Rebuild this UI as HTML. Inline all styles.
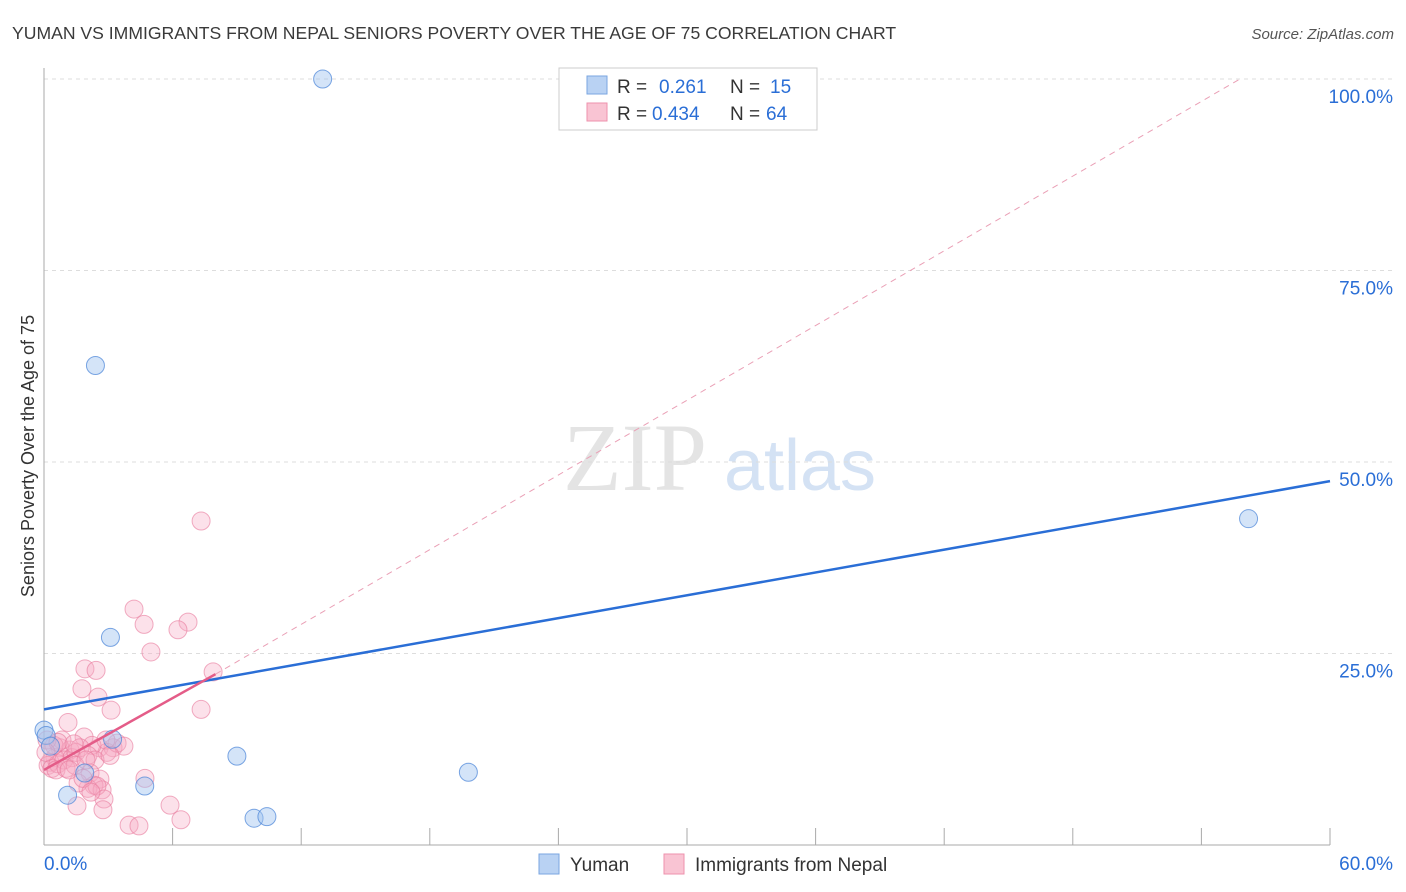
<!DOCTYPE html>
<html><head><meta charset="utf-8"><style>
body{margin:0;background:#fff;font-family:"Liberation Sans",sans-serif}
svg{display:block}
</style></head><body>
<svg id="c" width="1406" height="892" xmlns="http://www.w3.org/2000/svg">
<text x="12" y="39" font-size="17.6" fill="#3a3a3a">YUMAN VS IMMIGRANTS FROM NEPAL SENIORS POVERTY OVER THE AGE OF 75 CORRELATION CHART</text>
<text x="1394" y="39" font-size="15" fill="#555" font-style="italic" text-anchor="end">Source: ZipAtlas.com</text>
<text x="0" y="0" transform="translate(34,456) rotate(-90)" font-size="18" fill="#333" text-anchor="middle">Seniors Poverty Over the Age of 75</text>
<g>
<text x="635" y="490" font-size="96" fill="#e4e4e4" font-family="Liberation Serif,serif" text-anchor="middle">ZIP</text>
<text x="800" y="490" font-size="72" fill="#d4e2f4" text-anchor="middle">atlas</text>
</g>
<g id="grid"></g><g id="axes"></g><g id="lines"></g><g id="pts"></g>
<g>
<rect x="559" y="68" width="258" height="62" fill="#fff" stroke="#ccc"/>
<rect x="587" y="76" width="20" height="18" fill="#b9d2f3" stroke="#7aa6e0"/>
<rect x="587" y="103" width="20" height="18" fill="#f9c4d3" stroke="#ee92ad"/>
<text x="617" y="93" font-size="19" fill="#333">R =</text>
<text x="659" y="93" font-size="19" fill="#2a6ed6">0.261</text>
<text x="730" y="93" font-size="19" fill="#333">N =</text>
<text x="770" y="93" font-size="19" fill="#2a6ed6">15</text>
<text x="617" y="120" font-size="19" fill="#333">R =</text>
<text x="652" y="120" font-size="19" fill="#2a6ed6">0.434</text>
<text x="730" y="120" font-size="19" fill="#333">N =</text>
<text x="766" y="120" font-size="19" fill="#2a6ed6">64</text>
</g>
<g>
<rect x="539" y="854" width="20" height="20" fill="#b9d2f3" stroke="#7aa6e0"/>
<text x="570" y="871" font-size="19" fill="#333">Yuman</text>
<rect x="664" y="854" width="20" height="20" fill="#f9c4d3" stroke="#ee92ad"/>
<text x="695" y="871" font-size="19" fill="#333">Immigrants from Nepal</text>
</g>
</svg>
<script>
const yTicks=[25,50,75,100];
const yTickLabels=["25.0%","50.0%","75.0%","100.0%"];
const xTickLabels=["0.0%","60.0%"];
const yumanX=[13.0,2.4,3.1,3.2,1.9,1.1,4.7,9.0,9.8,10.4,19.8,56.2,0.0,0.1,0.3];
const yumanY=[100,62.6,27.1,13.8,9.4,6.5,7.7,11.6,3.5,3.7,9.5,42.6,15.0,14.3,12.9];
const nepalX=[7.33,4.20,4.67,6.72,6.25,4.99,1.91,2.43,1.77,2.52,3.13,7.33,7.89,1.12,1.87,2.57,3.22,2.94,2.24,1.21,0.75,0.51,0.28,0.19,0.37,0.65,0.93,1.31,1.49,1.68,2.05,2.38,0.84,0.47,0.14,0.56,1.03,1.45,2.15,2.61,2.33,2.05,2.71,2.47,1.59,2.80,1.54,2.75,4.71,3.97,4.43,5.88,6.39,3.41,2.89,3.73,1.96,1.17,0.65,0.09,3.08,1.82,2.19,1.40];
const nepalY=[42.3,30.8,28.8,29.1,28.1,25.2,23.0,22.8,20.4,19.3,17.6,17.7,22.6,16.0,14.1,12.7,12.7,12.1,13.0,12.4,12.7,11.4,10.8,10.4,10.0,10.6,11.1,11.4,12.1,12.7,11.7,11.1,13.7,13.0,13.7,9.8,10.0,10.4,9.4,8.6,7.8,7.4,7.2,7.7,8.1,6.0,5.1,4.6,8.7,2.6,2.5,5.2,3.3,13.3,13.7,12.9,11.1,9.8,13.4,12.1,11.7,8.7,6.9,13.2];
const yumanLine=[17.7,47.5];   // y at x=0 and x=60
const nepalLine=[9.8,22.3,8];  // y at x=0, y at x=end, end x
const nepalDashEnd=[55.8,100]; // dashed extension end (x,y)
const NS="http://www.w3.org/2000/svg";
const X=v=>44+v*(1286/60), Y=v=>845-v*(766/100);
function mk(t,a,p){const e=document.createElementNS(NS,t);for(const k in a)e.setAttribute(k,a[k]);document.getElementById(p).appendChild(e);return e;}
yTicks.forEach((t,i)=>{
 const g=mk('line',{x1:44,x2:1394,y1:Y(t),y2:Y(t),stroke:'#ddd','stroke-dasharray':'4,4'},'grid');
 
 
 const l=mk('text',{x:1393,y:Y(t)+24,'font-size':19,fill:'#2a6ed6','text-anchor':'end'},'axes');
 l.textContent=yTickLabels[i];
 
 
});
const ax=mk('line',{x1:44,x2:44,y1:68,y2:845,stroke:'#aaa'},'axes');


const bx=mk('line',{x1:44,x2:1330,y1:845,y2:845,stroke:'#aaa'},'axes');


for(let i=1;i<=10;i++){const t=mk('line',{x1:X(i*6),x2:X(i*6),y1:828,y2:845,stroke:'#aaa'},'axes');
 
 }
const xl0=mk('text',{x:44,y:870,'font-size':19,fill:'#2a6ed6'},'axes');xl0.textContent=xTickLabels[0];


const xl1=mk('text',{x:1393,y:870,'font-size':19,fill:'#2a6ed6','text-anchor':'end'},'axes');xl1.textContent=xTickLabels[1];


const dl=mk('line',{x1:X(nepalLine[2]),y1:Y(nepalLine[1]),x2:X(nepalDashEnd[0]),y2:Y(nepalDashEnd[1]),stroke:'#eaa0b6','stroke-dasharray':'6,5','stroke-width':1},'lines');


nepalX.forEach((x,i)=>{const c=mk('circle',{cx:X(x),cy:Y(nepalY[i]),r:9,fill:'rgba(247,170,195,0.35)',stroke:'rgba(232,120,155,0.6)'},'pts');
 
 });
yumanX.forEach((x,i)=>{const c=mk('circle',{cx:X(x),cy:Y(yumanY[i]),r:9,fill:'rgba(160,195,240,0.45)',stroke:'rgba(70,130,215,0.7)'},'pts');
 
 });
const bl=mk('line',{x1:X(0),y1:Y(yumanLine[0]),x2:X(60),y2:Y(yumanLine[1]),stroke:'#2a6ed6','stroke-width':2.5},'pts');


const pl=mk('line',{x1:X(0),y1:Y(nepalLine[0]),x2:X(nepalLine[2]),y2:Y(nepalLine[1]),stroke:'#e45c88','stroke-width':2.5},'pts');


</script>
</body></html>
